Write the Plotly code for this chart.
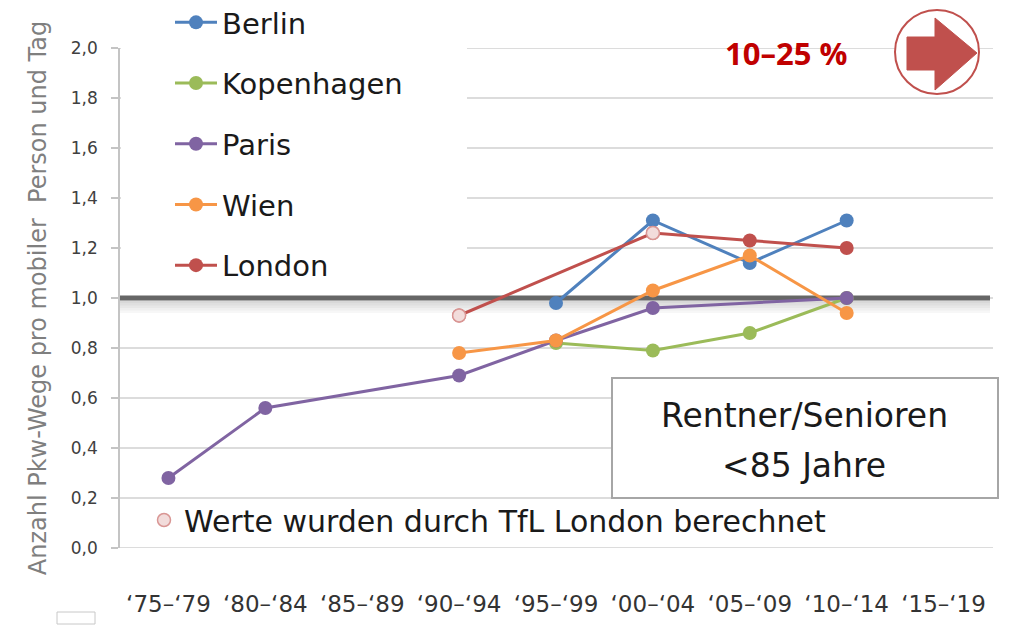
import plotly.graph_objects as go

# ---------------- data ----------------
categories = ["‘75–‘79", "‘80–‘84", "‘85–‘89", "‘90–‘94", "‘95–‘99",
              "‘00–‘04", "‘05–‘09", "‘10–‘14", "‘15–‘19"]
berlin     = [None, None, None, None, 0.98, 1.31, 1.14, 1.31, None]
kopenhagen = [None, None, None, None, 0.82, 0.79, 0.86, 1.00, None]
paris      = [0.28, 0.56, None, 0.69, 0.83, 0.96, None, 1.00, None]
wien       = [None, None, None, 0.78, 0.83, 1.03, 1.17, 0.94, None]
london     = [None, None, None, 0.93, None, 1.26, 1.23, 1.20, None]
london_tfl_estimated = [False, False, False, True, False, True, False, False, False]

y_ticks = [0.0, 0.2, 0.4, 0.6, 0.8, 1.0, 1.2, 1.4, 1.6, 1.8, 2.0]
y_tick_labels = ["0,0", "0,2", "0,4", "0,6", "0,8", "1,0", "1,2", "1,4", "1,6", "1,8", "2,0"]

series_names = ["Berlin", "Kopenhagen", "Paris", "Wien", "London"]
series_values = [berlin, kopenhagen, paris, wien, london]
series_colors = ["#4f81bd", "#9bbb59", "#8064a2", "#f79646", "#c0504d"]

reference_value = 1.0
change_label = "10–25 %"
box_lines = ["Rentner/Senioren", "&lt;85 Jahre"]
footnote = "Werte wurden durch TfL London berechnet"
y_title = "Anzahl Pkw-Wege pro mobiler  Person und Tag"

# ---------------- layout geometry ----------------
# the page body has an 8px margin, so the figure is drawn 8px in from the window edge
PAGE = 8
W, H = 1009 - PAGE, 625 - PAGE
PL, PT, PR, PB = 120, 48, 992, 548          # plot area in window pixels
L, T = PL - PAGE, PT - PAGE
R, B = W - (PR - PAGE), H - (PB - PAGE)
PW, PH = PR - PL, PB - PT


def px(x):
    return (x - PL) / PW


def py(y):
    return (PB - y) / PH


FONT = "DejaVu Sans"
GRID = "#d0d0d0"

fig = go.Figure()

for name, vals, col in zip(series_names, series_values, series_colors):
    fig.add_trace(go.Scatter(
        x=categories, y=vals, name=name, mode="lines+markers",
        connectgaps=True, legendgroup=name, legend="legend",
        line=dict(color=col, width=3),
        marker=dict(color=col, size=14),
    ))

# pale markers for values estimated by TfL
tfl_y = [v if flag else None for v, flag in zip(london, london_tfl_estimated)]
fig.add_trace(go.Scatter(
    x=categories, y=tfl_y, name=footnote, mode="markers", legend="legend2",
    marker=dict(color="#f2dcdb", size=13, line=dict(color="#d99694", width=1.5)),
))

# pixel size of one y unit, for the thickness of the reference band
unit_px = PH / 2.0

shapes = []
# horizontal gridlines at the y ticks (drawn as shapes so they can be covered)
for v in y_ticks:
    shapes.append(dict(type="line", xref="paper", yref="y", layer="below",
                       x0=0, x1=px(993), y0=v, y1=v,
                       line=dict(color=GRID, width=1.5)))
# white area behind legend (covers gridlines)
shapes.append(dict(type="rect", xref="paper", yref="paper", layer="below",
                   x0=px(121), x1=px(467), y0=py(287), y1=py(8),
                   fillcolor="white", line=dict(width=0)))
# shadow under the reference line
for k in range(5):
    shapes.append(dict(type="rect", xref="paper", yref="y", layer="below",
                       x0=px(120), x1=px(990),
                       y0=reference_value - (2.5 + 2.5 * (k + 1)) / unit_px,
                       y1=reference_value - 2.5 / unit_px,
                       fillcolor="rgba(0,0,0,0.03)", line=dict(width=0)))
# reference line at 1.0 (thick dark band)
shapes.append(dict(type="rect", xref="paper", yref="y", layer="below",
                   x0=px(120), x1=px(990),
                   y0=reference_value - 2.5 / unit_px, y1=reference_value + 2.5 / unit_px,
                   fillcolor="#666666", line=dict(width=0)))
# text box
shapes.append(dict(type="rect", xref="paper", yref="paper", layer="below",
                   x0=px(612), x1=px(998), y0=py(498), y1=py(378),
                   fillcolor="white", line=dict(color="#a6a6a6", width=2)))
# circle with arrow
shapes.append(dict(type="circle", xref="paper", yref="paper", layer="above",
                   x0=px(895), x1=px(979), y0=py(94), y1=py(10),
                   fillcolor="white", line=dict(color="#c0504d", width=2)))
arrow_pts = [(907, 37), (935, 37), (935, 18), (977, 53), (935, 90), (935, 70), (907, 70)]
path = "M " + " L ".join(f"{px(x):.5f},{py(y):.5f}" for x, y in arrow_pts) + " Z"
shapes.append(dict(type="path", xref="paper", yref="paper", layer="above", path=path,
                   fillcolor="#c0504d", line=dict(color="#c0504d", width=1)))
# small artifact box bottom-left
shapes.append(dict(type="rect", xref="paper", yref="paper", layer="above",
                   x0=px(57), x1=px(95), y0=py(624), y1=py(612),
                   fillcolor="rgba(0,0,0,0)", line=dict(color="#c8c8c8", width=1)))

annotations = [
    dict(xref="paper", yref="paper", x=px(786), y=py(53), text=change_label, showarrow=False,
         font=dict(family="Open Sans", size=31, color="#c00000", weight="bold"),
         xanchor="center", yanchor="middle"),
    dict(xref="paper", yref="paper", x=px(804), y=py(415), text=box_lines[0], showarrow=False,
         font=dict(family=FONT, size=33, color="#1a1a1a"), xanchor="center", yanchor="middle"),
    dict(xref="paper", yref="paper", x=px(804), y=py(465), text=box_lines[1], showarrow=False,
         font=dict(family=FONT, size=33, color="#1a1a1a"), xanchor="center", yanchor="middle"),
]

fig.update_layout(
    width=W, height=H,
    margin=dict(l=L, r=R, t=T, b=B, autoexpand=False),
    paper_bgcolor="white", plot_bgcolor="white",
    shapes=shapes, annotations=annotations,
    legend=dict(x=px(170), y=py(-3), xanchor="left", yanchor="top",
                bgcolor="rgba(0,0,0,0)", font=dict(family=FONT, size=29, color="#1a1a1a"),
                traceorder="grouped", tracegroupgap=20, itemwidth=42),
    legend2=dict(x=px(144), y=py(520), xanchor="left", yanchor="middle",
                 bgcolor="rgba(0,0,0,0)", font=dict(family=FONT, size=30, color="#1a1a1a"),
                 itemwidth=30),
    xaxis=dict(type="category", categoryorder="array", categoryarray=categories,
               range=[-0.5, len(categories) - 0.5], showgrid=False, showline=False,
               zeroline=False, ticks="", ticklabelstandoff=40, automargin=False,
               tickfont=dict(family=FONT, size=23, color="#333333")),
    yaxis=dict(range=[0, 2], tickvals=y_ticks, ticktext=y_tick_labels,
               showgrid=False, zeroline=False,
               showline=True, linecolor="#c4c4c4", linewidth=1.5,
               ticks="outside", ticklen=7, tickcolor="#c4c4c4", tickwidth=1.5,
               ticklabelstandoff=10, automargin=False,
               tickfont=dict(family=FONT, size=17, color="#404040"),
               title=dict(text=y_title, standoff=17,
                          font=dict(family=FONT, size=24, color="#7f7f7f"))),
)

fig.write_html("out.html")
